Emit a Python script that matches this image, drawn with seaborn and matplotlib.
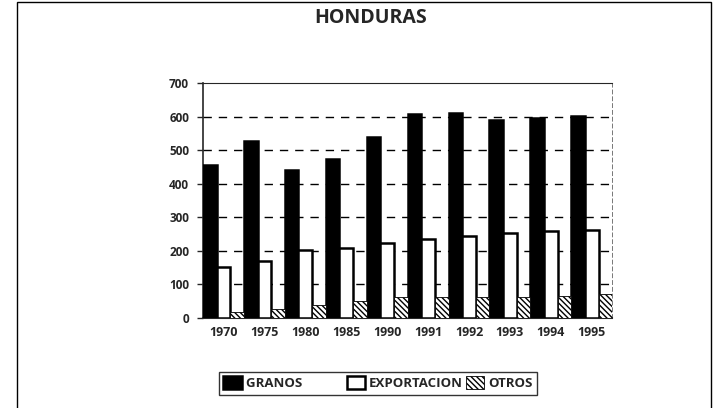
import pandas as pd
import seaborn as sns
import matplotlib.pyplot as plt
from matplotlib.patches import Rectangle

# values
years = ['1970', '1975', '1980', '1985', '1990', '1991', '1992', '1993', '1994', '1995']
granos = [456, 526, 442, 474, 538, 607, 610, 589, 596, 603]
exportacion = [151, 171, 203, 208, 223, 235, 245, 253, 258, 263]
otros = [18, 27, 40, 50, 62, 62, 63, 62, 66, 72]
series = ['GRANOS', 'EXPORTACION', 'OTROS']

df = pd.DataFrame({
    'year': years * 3,
    'value': granos + exportacion + otros,
    'serie': [s for s in series for _ in years],
})

sns.set_style('white')
plt.rcParams['font.family'] = ['Open Sans', 'DejaVu Sans']
plt.rcParams['hatch.linewidth'] = 1.0

fig = plt.figure(figsize=(7.16, 4.08), dpi=100)
ax = fig.add_axes([0.2835, 0.2206, 0.855 - 0.2835, 0.7966 - 0.2206])

sns.barplot(data=df, x='year', y='value', hue='serie', hue_order=series,
            palette=['black', 'white', 'white'], edgecolor='black', linewidth=1.8,
            width=1.0, gap=0, ax=ax, zorder=3)

# hatch the OTROS bars
for bar in ax.containers[2]:
    bar.set_hatch('\\\\\\\\\\\\')
    bar.set_linewidth(0.6)

ax.set_ylim(0, 700)
ax.set_xlim(-0.5, 9.5)
ax.set_yticks(range(0, 701, 100))
ax.set_xlabel('')
ax.set_ylabel('')
for y in range(100, 700, 100):
    ax.axhline(y, color='black', lw=1.0, ls=(0, (6, 5)), zorder=1)

ax.tick_params(axis='y', left=True, length=4, width=1, labelsize=8.5, pad=6)
ax.tick_params(axis='x', bottom=False, labelsize=9, pad=2)
for lbl in ax.get_xticklabels() + ax.get_yticklabels():
    lbl.set_fontweight('bold')

ax.spines['left'].set_linewidth(1.2)
ax.spines['bottom'].set_linewidth(1.5)
ax.spines['top'].set_linewidth(0.8)
ax.spines['right'].set_linestyle((0, (4, 3)))
ax.spines['right'].set_color('#777777')
ax.spines['right'].set_linewidth(0.7)

handles, labels = ax.get_legend_handles_labels()
ax.legend_.remove()
handles[2].set_hatch('\\\\\\\\\\\\')
handles[2].set_linewidth(0.6)
labels[0] = 'GRANOS            '
leg = fig.legend(handles, labels, loc='center', bbox_to_anchor=(0.528, 0.061), ncol=3,
                 frameon=True, fancybox=False, edgecolor='black', fontsize=9.5,
                 handlelength=1.4, handleheight=1.1, handletextpad=0.3,
                 columnspacing=0.2, borderpad=0.35, borderaxespad=0)
leg.get_frame().set_linewidth(1.0)
for t in leg.get_texts():
    t.set_fontweight('bold')

fig.text(0.517, 0.955, 'HONDURAS', ha='center', va='center', fontsize=14, fontweight='bold')

# outer frame around the whole chart
fig.add_artist(Rectangle((17 / 716, -0.1), (711 - 17) / 716, 1.095, transform=fig.transFigure,
                         fill=False, edgecolor='black', linewidth=1.0))

fig.savefig('out.png', dpi=100)
